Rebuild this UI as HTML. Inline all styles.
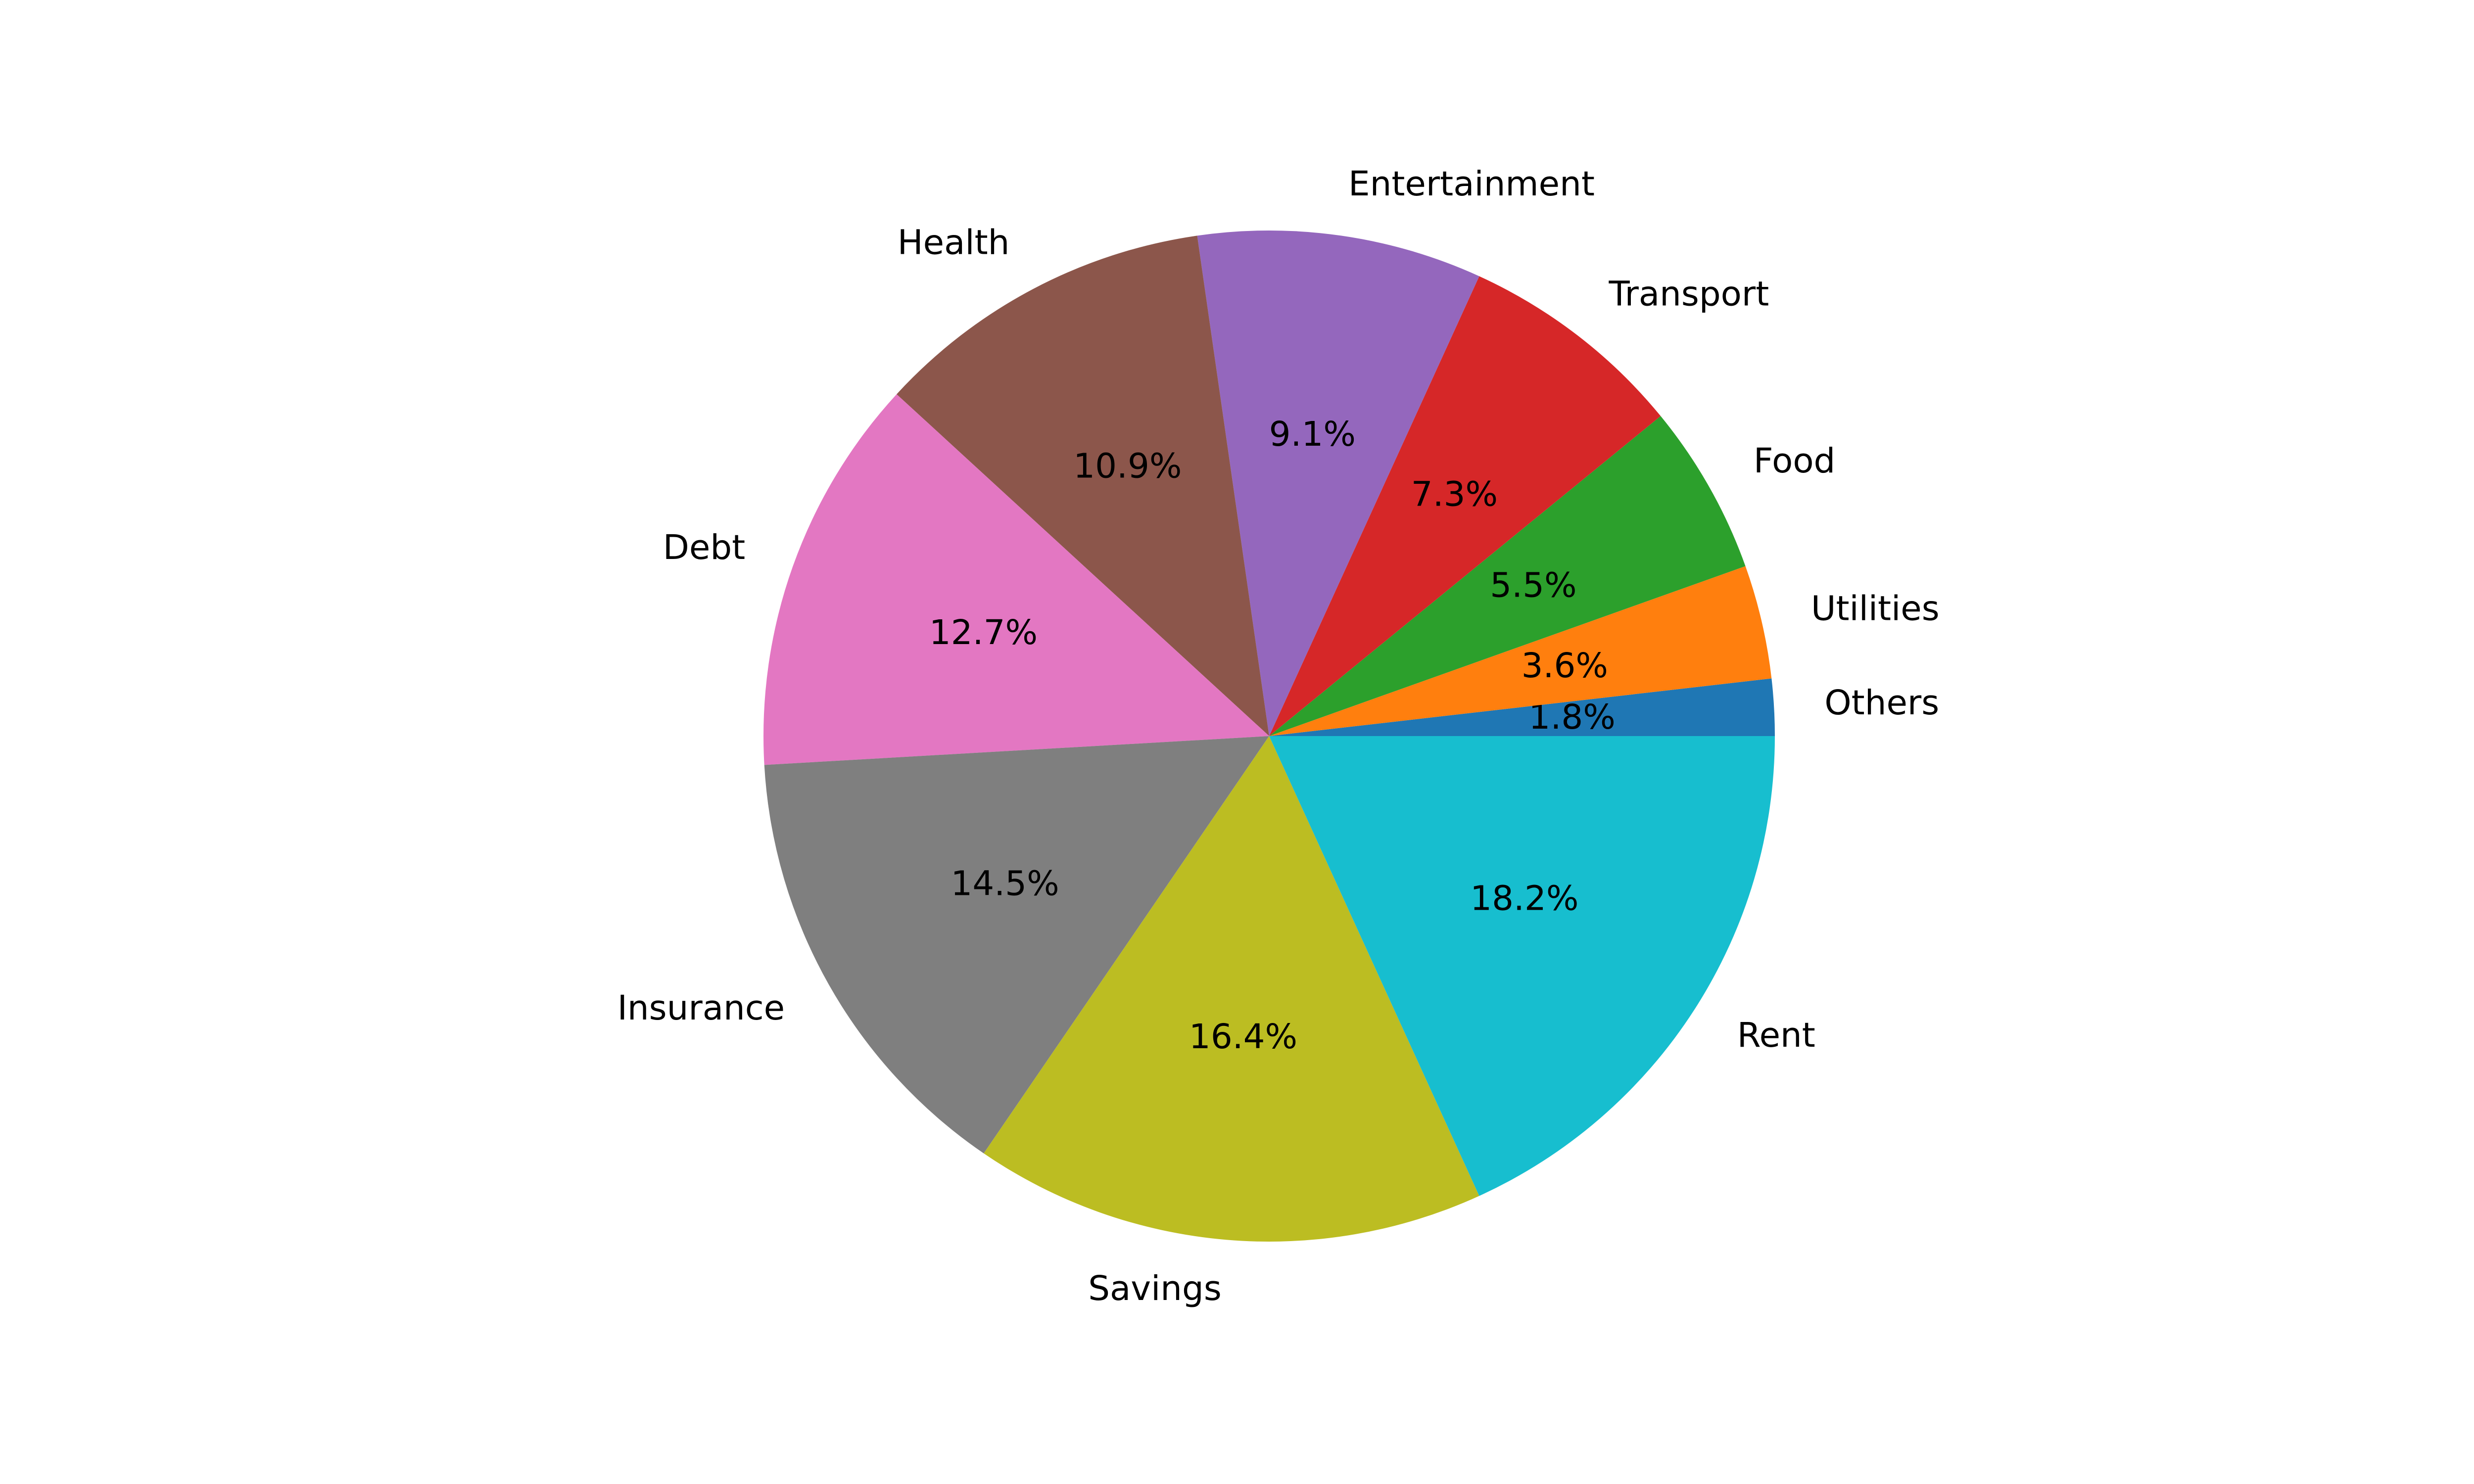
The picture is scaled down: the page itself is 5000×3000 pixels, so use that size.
<!DOCTYPE html>
<html><head><meta charset="utf-8"><style>
html,body{margin:0;padding:0;background:#fff;}
svg{display:block;}
text{font-family:"DejaVu Sans","Liberation Sans",sans-serif;font-size:69px;fill:#000;}
</style></head><body>
<svg id="chart" width="5000" height="3000" viewBox="0 0 5000 3000" xmlns="http://www.w3.org/2000/svg">
<rect width="5000" height="3000" fill="#fff"/>
</svg>
<script>
const categories = ["Others","Utilities","Food","Transport","Entertainment","Health","Debt","Insurance","Savings","Rent"];
const values = [1,2,3,4,5,6,7,8,9,10];
const colors = ["#1f77b4","#ff7f0e","#2ca02c","#d62728","#9467bd","#8c564b","#e377c2","#7f7f7f","#bcbd22","#17becf"];

const cx = 2565, cy = 1488, R = 1022;
const svg = document.getElementById('chart');
const NS = 'http://www.w3.org/2000/svg';
const total = values.reduce((a,b)=>a+b,0);
function pt(angleDeg, r){ const a = angleDeg*Math.PI/180; return [cx + r*Math.cos(a), cy - r*Math.sin(a)]; }
let start = 0;
values.forEach((v,i)=>{
  const sweep = v/total*360;
  const end = start + sweep;
  const [x1,y1] = pt(start,R), [x2,y2] = pt(end,R);
  const large = sweep>180?1:0;
  const p = document.createElementNS(NS,'path');
  p.setAttribute('d',`M${cx},${cy} L${x1},${y1} A${R},${R} 0 ${large} 0 ${x2},${y2} Z`);
  p.setAttribute('fill',colors[i]);
  
  
  svg.appendChild(p);
  const mid = start + sweep/2;
  const [lx,ly] = pt(mid, 1.1*R);
  const t = document.createElementNS(NS,'text');
  t.setAttribute('x',lx); t.setAttribute('y',ly-3);
  t.setAttribute('dominant-baseline','central');
  t.setAttribute('text-anchor', Math.cos(mid*Math.PI/180) >= 0 ? 'start' : 'end');
  t.textContent = categories[i];
  
  
  svg.appendChild(t);
  const [px,py] = pt(mid, 0.6*R);
  const tp = document.createElementNS(NS,'text');
  tp.setAttribute('x',px); tp.setAttribute('y',py-3);
  tp.setAttribute('dominant-baseline','central');
  tp.setAttribute('text-anchor','middle');
  tp.textContent = (v/total*100).toFixed(1) + '%';
  
  
  svg.appendChild(tp);
  start = end;
});
</script>
</body></html>
